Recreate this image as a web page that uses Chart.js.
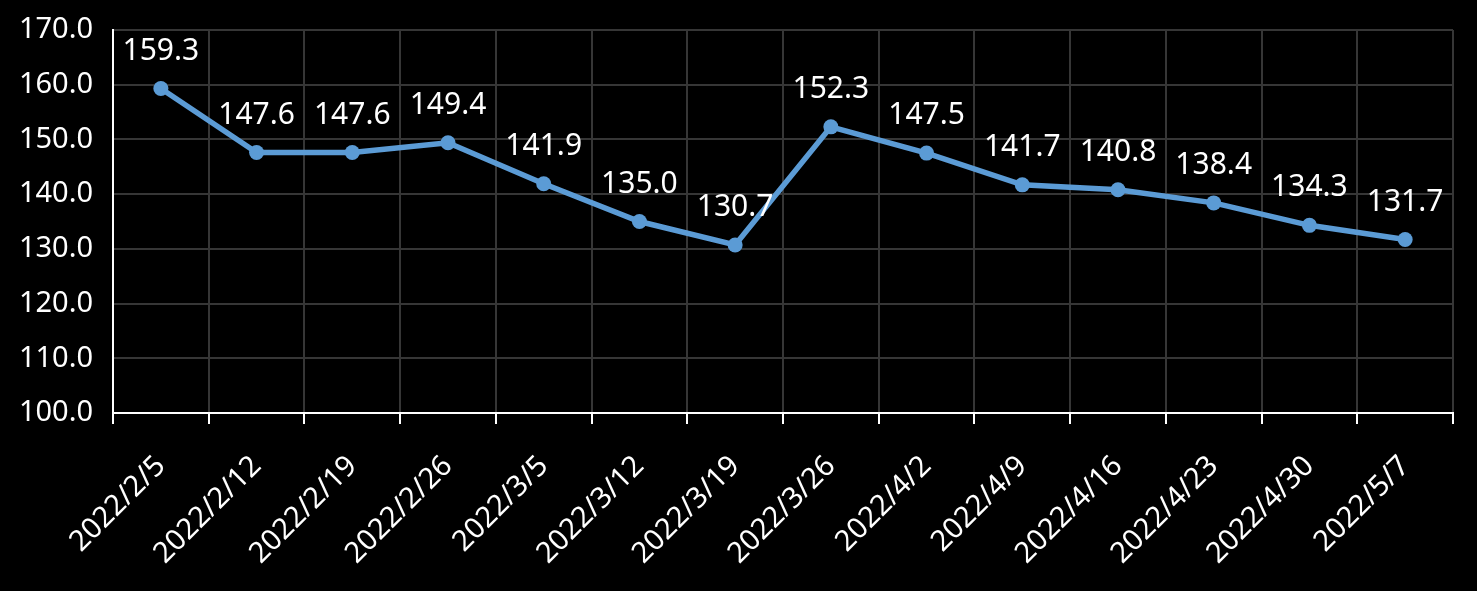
<!DOCTYPE html>
<html lang="en">
<head>
  <meta charset="UTF-8">
  <title>Weekly index</title>
  <style>
    body {
      margin: 0;
      background: #000;
    }
    #wrap {
      width: 1477px;
      height: 591px;
    }
  </style>
</head>
<body>
<div id="wrap">
  <canvas id="lineChart" width="1477" height="591"></canvas>
</div>

<script src="https://cdnjs.cloudflare.com/ajax/libs/Chart.js/4.4.0/chart.umd.min.js"></script>
<script>
  const dates = ['2022/2/5', '2022/2/12', '2022/2/19', '2022/2/26', '2022/3/5', '2022/3/12', '2022/3/19',
                 '2022/3/26', '2022/4/2', '2022/4/9', '2022/4/16', '2022/4/23', '2022/4/30', '2022/5/7'];
  const values = [159.3, 147.6, 147.6, 149.4, 141.9, 135.0, 130.7, 152.3, 147.5, 141.7, 140.8, 138.4, 134.3, 131.7];
  const yMin = 100;
  const yMax = 170;
  const yStep = 10;

  const lineBlue = '#5b9bd5';
  const gridGray = '#363636';
  const fontFamily = "'Noto Sans', 'Open Sans', sans-serif";

  // labels above each point, like Excel data labels
  const pointLabels = {
    id: 'pointLabels',
    afterDatasetsDraw(chart) {
      const ctx = chart.ctx;
      const meta = chart.getDatasetMeta(0);
      ctx.save();
      ctx.fillStyle = '#ffffff';
      ctx.font = '30px ' + fontFamily;
      ctx.textAlign = 'center';
      ctx.textBaseline = 'alphabetic';
      meta.data.forEach((pt, i) => {
        ctx.fillText(values[i].toFixed(1), pt.x, pt.y - 29);
      });
      ctx.restore();
    }
  };

  new Chart(document.getElementById('lineChart'), {
    type: 'line',
    data: {
      labels: dates,
      datasets: [{
        data: values,
        borderColor: lineBlue,
        backgroundColor: lineBlue,
        borderWidth: 5.5,
        pointRadius: 7.5,
        pointBackgroundColor: lineBlue,
        pointBorderWidth: 0,
        tension: 0
      }]
    },
    options: {
      responsive: false,
      animation: false,
      layout: { padding: { top: 30, right: 24, left: 0, bottom: 0 } },
      plugins: {
        legend: { display: false },
        tooltip: { enabled: false }
      },
      scales: {
        x: {
          offset: true,
          afterFit: s => { s.height = 178; },
          grid: {
            offset: true,
            color: gridGray,
            lineWidth: 2,
            tickColor: '#ffffff',
            tickLength: 11
          },
          border: { color: '#ffffff', width: 2 },
          ticks: {
            color: '#ffffff',
            font: { family: fontFamily, size: 29 },
            minRotation: 45,
            maxRotation: 45,
            autoSkip: false,
            padding: 25
          }
        },
        y: {
          min: yMin,
          max: yMax,
          afterFit: s => {
            s.width = 113;
            s.paddingTop = 0;
            s.paddingBottom = 0;
          },
          grid: {
            color: gridGray,
            lineWidth: 2,
            drawTicks: false
          },
          border: { color: '#ffffff', width: 2 },
          ticks: {
            stepSize: yStep,
            color: '#ffffff',
            padding: 20,
            font: { family: fontFamily, size: 29 },
            callback: v => v.toFixed(1)
          }
        }
      }
    },
    plugins: [pointLabels]
  });
</script>
</body>
</html>
